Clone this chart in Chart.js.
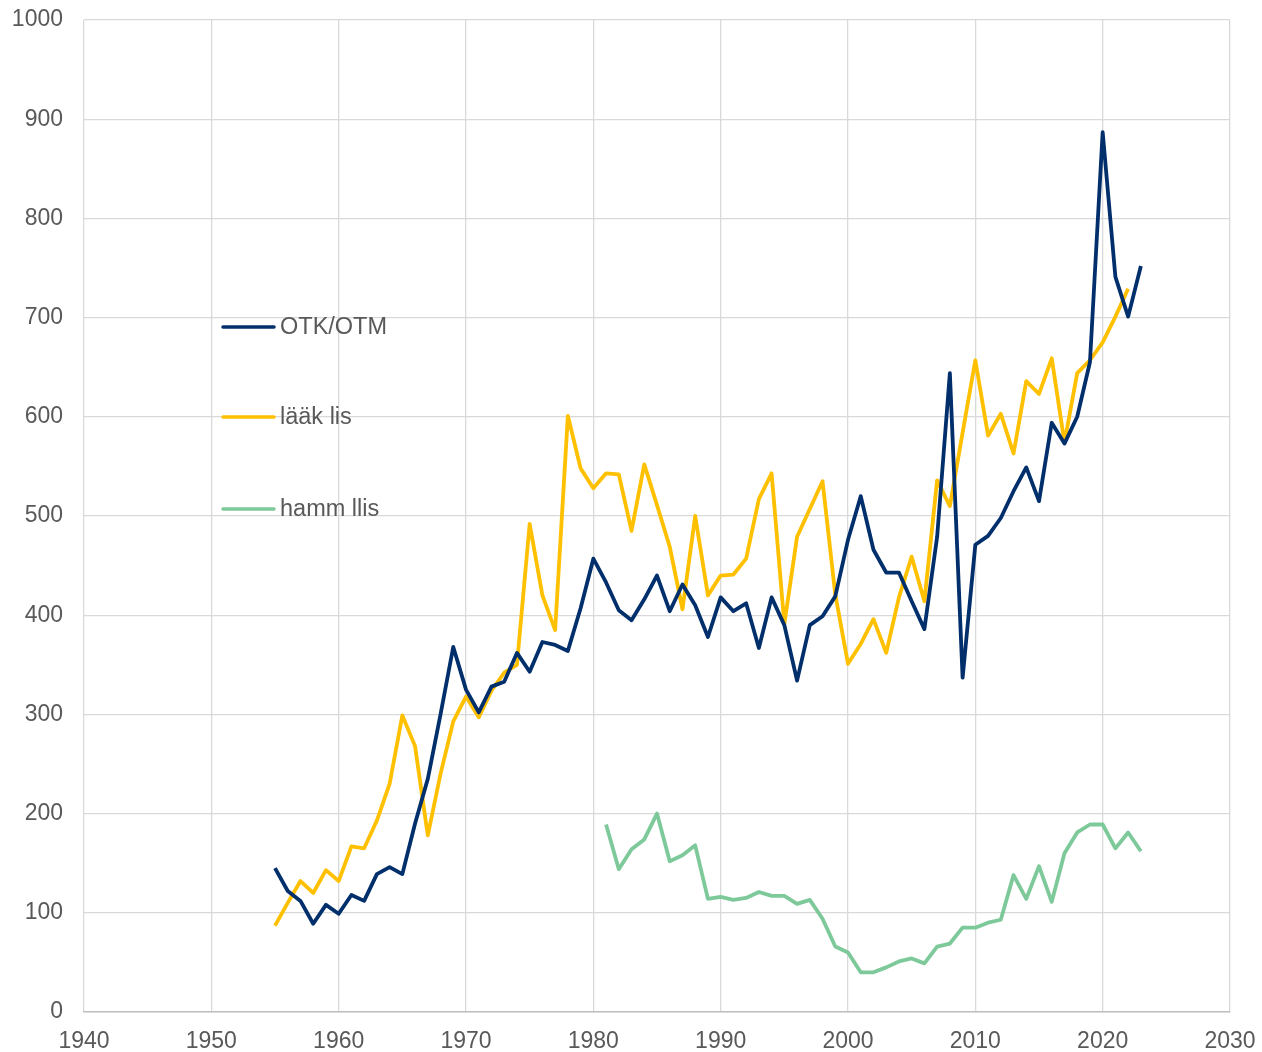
<!DOCTYPE html>
<html lang="fi">
<head>
  <meta charset="UTF-8" />
  <title>OTK/OTM, lääk lis, hamm llis</title>
  <script src="https://cdn.jsdelivr.net/npm/chart.js"></script>
  <style>
    body {
      margin: 0;
      padding: 0;
      background: #ffffff;
    }
    #wrap {
      width: 1262px;
      height: 1052px;
    }
  </style>
</head>
<body>
  <div id="wrap">
    <canvas id="kuvio" width="1262" height="1052"></canvas>
  </div>

  <script>
    // vuodet ja sarjat
    const vuodetOtk = [];
    for (let v = 1955; v <= 2023; v++) vuodetOtk.push(v);
    const otk = [
      145, 122, 112, 89, 108, 99, 118, 112, 139, 146,
      139, 190, 235, 300, 368, 325, 302, 328, 333, 362,
      343, 373, 370, 364, 407, 457, 433, 405, 395, 416,
      440, 404, 431, 410, 378, 418, 404, 412, 367, 418,
      390, 334, 390, 399, 419, 476, 520, 466, 443, 443,
      414, 386, 479, 644, 337, 471, 480, 498, 525, 549,
      515, 594, 573, 600, 655, 887, 741, 701, 752
    ];

    const vuodetLaak = [];
    for (let v = 1955; v <= 2022; v++) vuodetLaak.push(v);
    const laak = [
      87, 110, 132, 120, 143, 132, 167, 165, 193, 230,
      299, 268, 178, 240, 293, 318, 297, 324, 342, 350,
      492, 420, 385, 601, 548, 528, 543, 542, 485, 552,
      511, 469, 406, 500, 420, 440, 441, 457, 517, 543,
      391, 479, 507, 535, 421, 351, 371, 396, 362, 418,
      459, 414, 536, 510, 584, 657, 581, 603, 563, 636,
      623, 659, 574, 644, 657, 675, 701, 729
    ];

    const vuodetHamm = [];
    for (let v = 1981; v <= 2023; v++) vuodetHamm.push(v);
    const hamm = [
      189, 144, 164, 174, 200, 152, 158, 168, 114, 116,
      113, 115, 121, 117, 117, 109, 113, 94, 66, 60,
      40, 40, 45, 51, 54, 49, 66, 69, 85, 85,
      90, 93, 138, 114, 147, 111, 160, 181, 189, 189,
      165, 181, 162
    ];

    const sarjat = ['OTK/OTM', 'lääk lis', 'hamm llis'];
    const varit = ['#002F6C', '#FFC000', '#7DC99A'];

    function pisteet(vuodet, arvot) {
      return vuodet.map((v, i) => ({ x: v, y: arvot[i] }));
    }

    const fontti = 'Liberation Sans, Arial, sans-serif';
    const harmaa = '#595959';

    // selite piirretään kuvion sisään vasemmalle
    const selite = {
      id: 'selite',
      afterDatasetsDraw(chart) {
        const ctx = chart.ctx;
        const rivit = [327, 417, 509];
        ctx.save();
        ctx.font = '23.5px ' + fontti;
        ctx.textBaseline = 'middle';
        ctx.lineCap = 'round';
        sarjat.forEach((nimi, i) => {
          ctx.strokeStyle = varit[i];
          ctx.lineWidth = 3.5;
          ctx.beginPath();
          ctx.moveTo(223, rivit[i]);
          ctx.lineTo(274, rivit[i]);
          ctx.stroke();
          ctx.fillStyle = harmaa;
          ctx.fillText(nimi, 280, rivit[i] + 1);
        });
        ctx.restore();
      }
    };

    new Chart(document.getElementById('kuvio'), {
      type: 'line',
      data: {
        datasets: [
          { label: sarjat[0], data: pisteet(vuodetOtk, otk), borderColor: varit[0] },
          { label: sarjat[1], data: pisteet(vuodetLaak, laak), borderColor: varit[1] },
          { label: sarjat[2], data: pisteet(vuodetHamm, hamm), borderColor: varit[2] }
        ]
      },
      options: {
        responsive: false,
        animation: false,
        layout: {
          padding: { left: 0, right: 32, top: 20, bottom: 0 }
        },
        elements: {
          point: { radius: 0 },
          line: { borderWidth: 3.8, tension: 0, borderJoinStyle: 'round' }
        },
        plugins: {
          legend: { display: false },
          tooltip: { enabled: false }
        },
        scales: {
          x: {
            type: 'linear',
            min: 1940,
            max: 2030,
            ticks: {
              stepSize: 10,
              padding: 16,
              color: harmaa,
              font: { family: fontti, size: 23 },
              callback: v => String(v)
            },
            grid: { color: '#d9d9d9', lineWidth: 1.3, drawTicks: false },
            border: { color: '#bfbfbf', width: 1.5 },
            afterFit(scale) {
              scale.height = 40;
              scale.paddingLeft = 0;
              scale.paddingRight = 0;
            }
          },
          y: {
            min: 0,
            max: 1000,
            ticks: {
              stepSize: 100,
              padding: 21,
              color: harmaa,
              font: { family: fontti, size: 23 },
              callback: v => String(v)
            },
            grid: { color: '#d9d9d9', lineWidth: 1.3, drawTicks: false },
            border: { display: false },
            afterFit(scale) {
              scale.width = 84;
              scale.paddingTop = 0;
              scale.paddingBottom = 0;
            }
          }
        }
      },
      plugins: [selite]
    });
  </script>
</body>
</html>
